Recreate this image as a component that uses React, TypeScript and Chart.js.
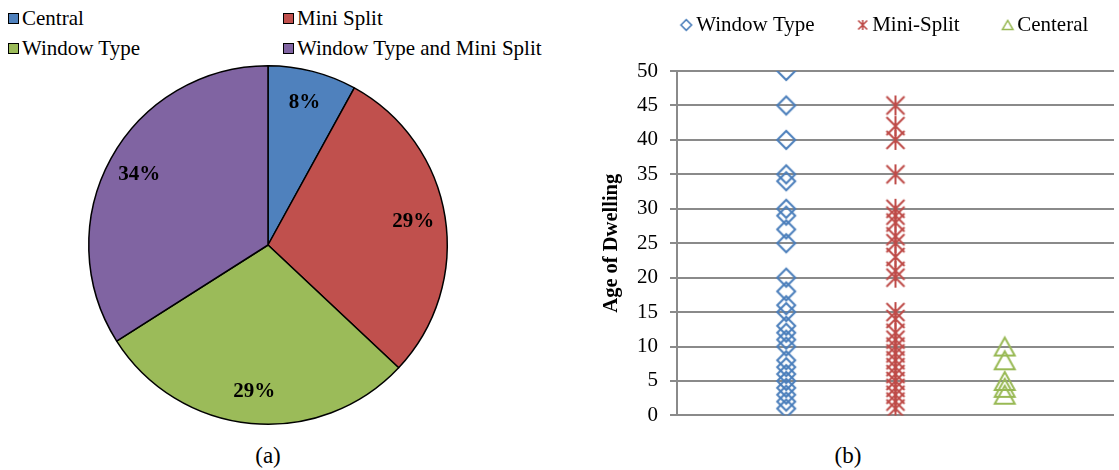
import React, { useEffect, useRef } from 'react';
import { Chart, registerables } from 'chart.js';

Chart.register(...registerables);

const FONT = '"Liberation Serif", "Times New Roman", serif';

// ---- Pie (a) ----
const pieLabels = ['Central', 'Mini Split', 'Window Type', 'Window Type and Mini Split'];
const pieShares = [8, 29, 29, 34];
const pieColors = ['#4F81BD', '#C0504D', '#9BBB59', '#8064A2'];

// ---- Scatter (b) ----
const seriesNames = ['Window Type', 'Mini-Split', 'Centeral'];
const seriesX = [1, 2, 3];
const seriesColors = ['#4A7EBB', '#BE4B48', '#98B954'];
const windowTypeAges = [50, 45, 40, 35, 34, 30, 29, 27, 25, 20, 18, 16, 15, 13, 12, 11, 10, 8, 7, 6, 5, 4, 3, 2, 1];
const miniSplitAges = [45, 42, 40, 35, 30, 29, 28, 26, 25, 23, 21, 20, 15, 14, 12, 11, 10, 9, 8, 7, 6, 5, 4, 3, 2, 1];
const centeralAges = [10, 8, 5, 4, 3];
const yMin = 0;
const yMax = 50;
const yStep = 5;
const yTitle = 'Age of Dwelling';
const captions = ['(a)', '(b)'];

function makeCanvas(w: number, h: number) {
  const c = document.createElement('canvas');
  c.width = w;
  c.height = h;
  return c;
}

function diamondIcon(w: number, h: number, cx: number, cy: number, r: number, color: string, lw: number) {
  const c = makeCanvas(w, h);
  const ctx = c.getContext('2d')!;
  ctx.strokeStyle = color;
  ctx.lineWidth = lw;
  ctx.beginPath();
  ctx.moveTo(cx - r, cy);
  ctx.lineTo(cx, cy - r);
  ctx.lineTo(cx + r, cy);
  ctx.lineTo(cx, cy + r);
  ctx.closePath();
  ctx.stroke();
  return c;
}

function starIcon(w: number, h: number, cx: number, cy: number, r: number, color: string, lw: number) {
  const c = makeCanvas(w, h);
  const ctx = c.getContext('2d')!;
  ctx.strokeStyle = color;
  ctx.lineWidth = lw;
  ctx.beginPath();
  ctx.moveTo(cx, cy - r);
  ctx.lineTo(cx, cy + r);
  ctx.moveTo(cx - r * 0.9, cy - r * 0.9);
  ctx.lineTo(cx + r * 0.9, cy + r * 0.9);
  ctx.moveTo(cx + r * 0.9, cy - r * 0.9);
  ctx.lineTo(cx - r * 0.9, cy + r * 0.9);
  ctx.stroke();
  return c;
}

function triangleIcon(w: number, h: number, cx: number, cy: number, hw: number, hh: number, color: string, lw: number) {
  const c = makeCanvas(w, h);
  const ctx = c.getContext('2d')!;
  ctx.strokeStyle = color;
  ctx.lineWidth = lw;
  ctx.beginPath();
  ctx.moveTo(cx, cy - hh);
  ctx.lineTo(cx + hw, cy + hh);
  ctx.lineTo(cx - hw, cy + hh);
  ctx.closePath();
  ctx.stroke();
  return c;
}

const pieLabelPlugin = {
  id: 'pieValueLabels',
  afterDatasetsDraw(chart: any) {
    const ctx = chart.ctx;
    const meta = chart.getDatasetMeta(0);
    ctx.save();
    ctx.font = `bold 21px ${FONT}`;
    ctx.fillStyle = '#000';
    ctx.textAlign = 'center';
    ctx.textBaseline = 'middle';
    meta.data.forEach((arc: any, i: number) => {
      const p = arc.getProps(['x', 'y', 'startAngle', 'endAngle', 'outerRadius'], true);
      const mid = (p.startAngle + p.endAngle) / 2;
      const r = p.outerRadius * 0.82;
      ctx.fillText(`${pieShares[i]}%`, p.x + Math.cos(mid) * r, p.y + Math.sin(mid) * r);
    });
    ctx.restore();
  },
};

const LEGEND_EXTRA = 25.5;
const legendSpacer = {
  id: 'legendSpacer',
  beforeLayout(chart: any) {
    const lg = chart.legend;
    if (lg && !lg.__spaced) {
      const orig = lg.fit;
      lg.fit = function () {
        orig.call(this);
        this.height += LEGEND_EXTRA;
      };
      lg.__spaced = true;
    }
  },
};

function PieChart() {
  const ref = useRef<HTMLCanvasElement>(null);
  useEffect(() => {
    const chart = new Chart(ref.current!, {
      type: 'pie',
      data: {
        labels: pieLabels,
        datasets: [
          {
            data: pieShares,
            backgroundColor: pieColors,
            borderColor: '#000',
            borderWidth: 1.5,
          },
        ],
      },
      options: {
        responsive: false,
        animation: false,
        layout: { padding: 8 },
        plugins: { legend: { display: false }, tooltip: { enabled: false } },
      },
      plugins: [pieLabelPlugin],
    } as any);
    return () => chart.destroy();
  }, []);
  return <canvas ref={ref} width={376} height={376} style={{ position: 'absolute', left: 80, top: 57 }} />;
}

function ScatterChart() {
  const ref = useRef<HTMLCanvasElement>(null);
  useEffect(() => {
    const pointIcons = [
      diamondIcon(24, 24, 12, 12, 9, seriesColors[0], 2),
      starIcon(24, 24, 12, 12, 10, seriesColors[1], 2),
      triangleIcon(26, 24, 13, 12, 10, 9, seriesColors[2], 2),
    ];
    const legendCenters = [50.5, 51, 51];
    const legendIcons = [
      diamondIcon(60, 16, legendCenters[0], 8, 5.3, seriesColors[0], 1.6),
      starIcon(60, 16, legendCenters[1], 8, 5, seriesColors[1], 1.6),
      triangleIcon(60, 16, legendCenters[2], 8, 5.3, 4.6, seriesColors[2], 1.5),
    ];
    const allAges = [windowTypeAges, miniSplitAges, centeralAges];
    const chart = new Chart(ref.current!, {
      type: 'scatter',
      data: {
        datasets: seriesNames.map((name, i) => ({
          label: name,
          data: allAges[i].map((v) => ({ x: seriesX[i], y: v })),
          pointStyle: pointIcons[i],
          borderColor: seriesColors[i],
          backgroundColor: 'transparent',
          pointRadius: 9,
        })),
      },
      options: {
        responsive: false,
        animation: false,
        layout: { padding: { left: 30, top: 7.5, right: 0, bottom: 23 } },
        scales: {
          x: { type: 'linear', min: 0, max: 4, display: false },
          y: {
            min: yMin,
            max: yMax,
            ticks: {
              stepSize: yStep,
              color: '#000',
              padding: 12,
              font: { family: FONT, size: 21 },
            },
            grid: {
              color: '#8A8A8A',
              lineWidth: 2,
              drawTicks: true,
              tickLength: 7,
              tickColor: '#8A8A8A',
            },
            border: { display: true, color: '#8A8A8A', width: 2 },
            title: {
              display: true,
              text: yTitle,
              color: '#000',
              font: { family: FONT, size: 20.5, weight: 'bold' },
              padding: { top: -10.3, bottom: 0 },
            },
            afterFit: (s: any) => {
              s.width = 67;
            },
          },
        },
        plugins: {
          tooltip: { enabled: false },
          legend: {
            position: 'top',
            align: 'center',
            labels: {
              usePointStyle: true,
              pointStyleWidth: 40,
              padding: 7,
              color: '#000',
              font: { family: FONT, size: 21 },
              generateLabels: (c: any) =>
                (Chart.defaults.plugins.legend.labels.generateLabels as any)(c).map((item: any, i: number) => ({
                  ...item,
                  pointStyle: legendIcons[i],
                })),
            },
          },
        },
      },
      plugins: [legendSpacer],
    } as any);
    return () => chart.destroy();
  }, []);
  return <canvas ref={ref} width={544} height={440} style={{ position: 'absolute', left: 580, top: 0 }} />;
}

const legendPos = [
  { x: 8, y: 0 },
  { x: 283, y: 0 },
  { x: 8, y: 30 },
  { x: 283, y: 30 },
];

function PieLegend() {
  return (
    <>
      {pieLabels.map((label, i) => (
        <div
          key={label}
          style={{
            position: 'absolute',
            left: legendPos[i].x,
            top: legendPos[i].y + 7,
            height: 22,
            lineHeight: '22px',
            fontSize: 21,
            fontFamily: FONT,
            color: '#000',
            whiteSpace: 'nowrap',
            display: 'flex',
            alignItems: 'center',
          }}
        >
          <span
            style={{
              display: 'inline-block',
              width: 9,
              height: 9,
              background: pieColors[i],
              border: '1.5px solid #000',
              marginRight: 3,
              marginTop: 1,
            }}
          />
          <span>{label}</span>
        </div>
      ))}
    </>
  );
}

export default function App() {
  return (
    <div
      style={{
        position: 'absolute',
        left: 0,
        top: 0,
        width: 1119,
        height: 470,
        background: '#fff',
        overflow: 'hidden',
        fontFamily: FONT,
      }}
    >
      <PieLegend />
      <PieChart />
      <ScatterChart />
      {captions.map((t, i) => (
        <div
          key={t}
          style={{
            position: 'absolute',
            left: i === 0 ? 218 : 798,
            width: 100,
            top: 443,
            textAlign: 'center',
            fontSize: 23,
            lineHeight: '26px',
            color: '#000',
          }}
        >
          {t}
        </div>
      ))}
    </div>
  );
}
